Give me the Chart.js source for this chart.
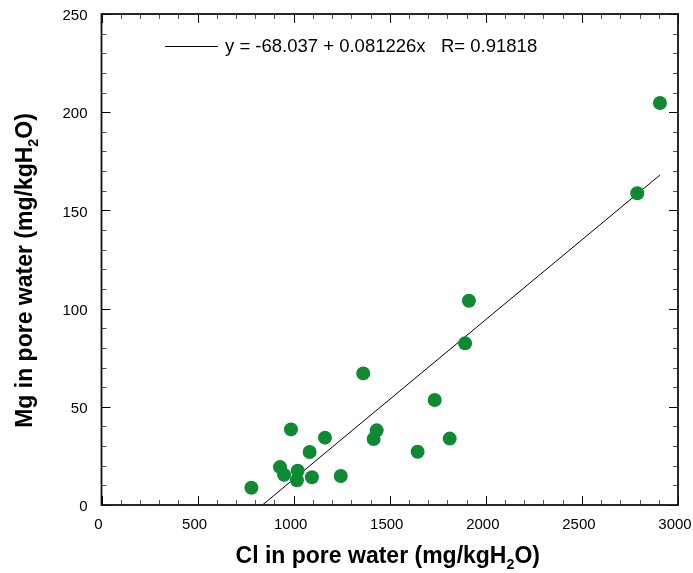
<!DOCTYPE html>
<html>
<head>
<meta charset="utf-8">
<script src="https://cdn.jsdelivr.net/npm/chart.js@4.4.1/dist/chart.umd.min.js"></script>
<style>
  html, body { margin: 0; padding: 0; background: #fff; }
  #wrap { width: 693px; height: 573px; }
</style>
</head>
<body>
<div id="wrap"><canvas id="mgChart" width="693" height="573"></canvas></div>
<script>
// Cl vs Mg in pore water (mg/kgH2O)
const clValues = [780, 929, 950, 986, 1021, 1017, 1083, 1095, 1163, 1245, 1362, 1432, 1416, 1645, 1734, 1812, 1892, 1912, 2788, 2906];
const mgValues = [8.8, 19.3, 15.4, 38.5, 17.5, 12.6, 27.0, 14.1, 34.3, 14.8, 67.0, 38.0, 33.6, 27.1, 53.5, 33.8, 82.3, 104.0, 158.7, 204.7];

// linear fit as printed in the legend
const fitIntercept = -68.037;
const fitSlope = 0.081226;
const fitR = 0.91818;

const xTicks = [0, 500, 1000, 1500, 2000, 2500, 3000];
const yTicks = [0, 50, 100, 150, 200, 250];

const FONT = "'Liberation Sans', Arial, sans-serif";
const DOT = '#0f8a33';

const points = clValues.map((c, i) => ({ x: c, y: mgValues[i] }));
// fit line from where it crosses y=0 out to the largest Cl value
const fitStart = -fitIntercept / fitSlope;
const fitEnd = Math.max(...clValues);
const fitLine = [
    { x: fitStart, y: fitIntercept + fitSlope * fitStart },
    { x: fitEnd, y: fitIntercept + fitSlope * fitEnd }
];

// draw bold text with a subscript part, e.g. H2O
function drawRich(ctx, parts, x, y, size) {
    let total = 0;
    for (const p of parts) {
        ctx.font = `bold ${p.sub ? size * 0.62 : size}px ${FONT}`;
        total += ctx.measureText(p.t).width;
    }
    let cx = x - total / 2;
    for (const p of parts) {
        ctx.font = `bold ${p.sub ? size * 0.62 : size}px ${FONT}`;
        ctx.fillText(p.t, cx, p.sub ? y + size * 0.28 : y);
        cx += ctx.measureText(p.t).width;
    }
}

const frameAndLabels = {
    id: 'frameAndLabels',
    afterDatasetsDraw(chart) {
        const { ctx, chartArea: a, scales: { x, y } } = chart;
        ctx.save();

        // inward ticks on all four sides
        ctx.lineWidth = 1;
        for (let v = 0; v <= 3000; v += 100) {
            const px = Math.round(x.getPixelForValue(v)) + 0.5;
            const major = v % 500 === 0;
            const len = major ? 9 : 5;
            ctx.strokeStyle = major ? '#000' : '#555';
            ctx.beginPath();
            ctx.moveTo(px, a.bottom); ctx.lineTo(px, a.bottom - len);
            ctx.moveTo(px, a.top); ctx.lineTo(px, a.top + len);
            ctx.stroke();
        }
        for (let v = 0; v <= 250; v += 10) {
            const py = Math.round(y.getPixelForValue(v)) + 0.5;
            const major = v % 50 === 0;
            const len = major ? 9 : 5;
            ctx.strokeStyle = major ? '#000' : '#555';
            ctx.beginPath();
            ctx.moveTo(a.left, py); ctx.lineTo(a.left + len, py);
            ctx.moveTo(a.right, py); ctx.lineTo(a.right - len, py);
            ctx.stroke();
        }

        // frame
        ctx.strokeStyle = '#111';
        ctx.lineWidth = 1.8;
        ctx.strokeRect(a.left, a.top, a.right - a.left, a.bottom - a.top);

        // legend entry for the fit
        ctx.strokeStyle = '#000';
        ctx.lineWidth = 1;
        ctx.beginPath();
        ctx.moveTo(165, 46.5); ctx.lineTo(218, 46.5);
        ctx.stroke();
        ctx.fillStyle = '#000';
        ctx.font = `18.5px ${FONT}`;
        ctx.textBaseline = 'middle';
        ctx.textAlign = 'left';
        ctx.fillText(`y = ${fitIntercept} + ${fitSlope}x   R= ${fitR}`, 225, 47);

        // axis titles
        ctx.textBaseline = 'alphabetic';
        const title = (name) => [
            { t: `${name} in pore water (mg/kgH` }, { t: '2', sub: true }, { t: 'O)' }
        ];
        drawRich(ctx, title('Cl'), (a.left + a.right) / 2 - 2, 563, 23);
        ctx.translate(32, (a.top + a.bottom) / 2 + 11);
        ctx.rotate(-Math.PI / 2);
        drawRich(ctx, title('Mg'), 0, 0, 23);
        ctx.restore();
    }
};

new Chart(document.getElementById('mgChart'), {
    type: 'scatter',
    data: {
        datasets: [
            {
                label: 'Mg',
                data: points,
                backgroundColor: DOT,
                borderColor: DOT,
                pointRadius: 7,
                pointHoverRadius: 7,
                borderWidth: 0,
                order: 0
            },
            {
                label: 'fit',
                type: 'line',
                data: fitLine,
                borderColor: '#000',
                borderWidth: 1,
                pointRadius: 0,
                fill: false,
                order: 1
            }
        ]
    },
    options: {
        responsive: false,
        animation: false,
        layout: { padding: { left: 0, right: 15, top: 14, bottom: 0 } },
        plugins: { legend: { display: false }, tooltip: { enabled: false } },
        scales: {
            x: {
                type: 'linear', min: 0, max: 3000,
                afterBuildTicks: (s) => { s.ticks = xTicks.map(v => ({ value: v })); },
                afterFit: (s) => { s.height = 68; s.paddingLeft = 0; s.paddingRight = 0; },
                grid: { display: false, drawTicks: false },
                border: { display: false },
                ticks: {
                    color: '#000', font: { family: FONT, size: 15 }, padding: 11, maxRotation: 0,
                    labelOffset: -3, callback: (v) => String(v)
                }
            },
            y: {
                type: 'linear', min: 0, max: 250,
                afterBuildTicks: (s) => { s.ticks = yTicks.map(v => ({ value: v })); },
                afterFit: (s) => { s.width = 101.5; s.paddingTop = 0; s.paddingBottom = 0; },
                grid: { display: false, drawTicks: false },
                border: { display: false },
                ticks: {
                    color: '#000', font: { family: FONT, size: 15 }, padding: 14,
                    labelOffset: 2, callback: (v) => String(v)
                }
            }
        }
    },
    plugins: [frameAndLabels]
});
</script>
</body>
</html>
